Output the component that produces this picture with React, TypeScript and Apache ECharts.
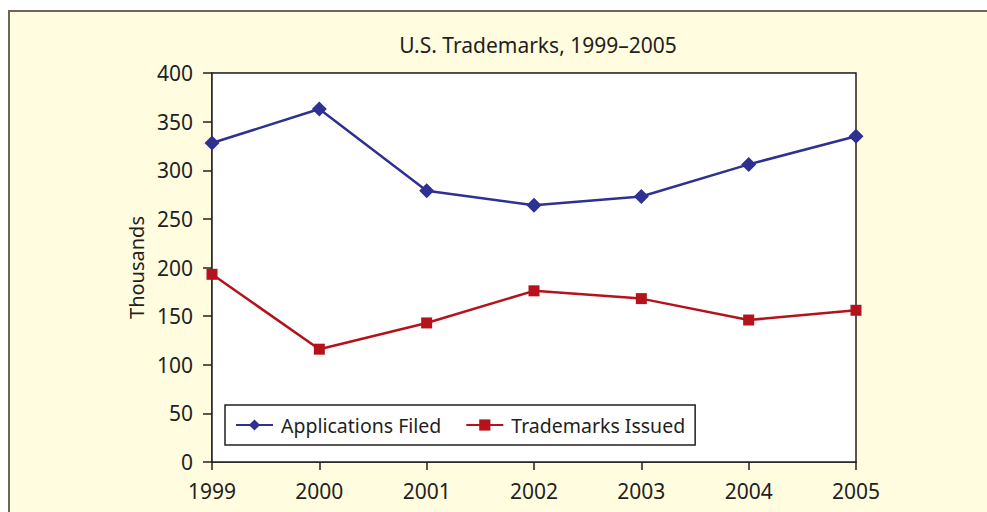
import React, { useEffect, useRef } from "react";
import * as echarts from "echarts";

const years = ["1999", "2000", "2001", "2002", "2003", "2004", "2005"];
const applicationsFiled = [328, 363, 279, 264, 273, 306, 335];
const trademarksIssued = [193, 116, 143, 176, 168, 146, 156];
const yTicks = { min: 0, max: 400, interval: 50 };

const FONT = "Noto Sans";
const TEXT = "#231f20";

export default function App() {
  const ref = useRef<HTMLDivElement>(null);
  useEffect(() => {
    if (!ref.current) return;
    const chart = echarts.init(ref.current, null, { renderer: "svg" });
    chart.setOption({
      animation: false,
      backgroundColor: "#ffffff",
      textStyle: { fontFamily: FONT, color: TEXT },
      graphic: [
        {
          type: "rect",
          z: -10,
          shape: { x: 9, y: 11, width: 1000, height: 520 },
          style: { fill: "#FFFCE0", stroke: "#6b6658", lineWidth: 2 },
        },
      ],
      title: {
        text: "U.S. Trademarks, 1999\u20132005",
        left: 533,
        textAlign: "center",
        top: 29,
        textStyle: { fontFamily: FONT, fontSize: 21, fontWeight: "normal", color: TEXT },
      },
      grid: {
        left: 212,
        right: 131,
        top: 73,
        bottom: 50,
        show: true,
        backgroundColor: "#ffffff",
        borderColor: TEXT,
        borderWidth: 1.5,
        z: 1,
      },
      legend: {
        left: 225,
        top: 405,
        padding: [10, 10, 10, 10],
        itemGap: 24,
        itemWidth: 37,
        itemHeight: 14,
        backgroundColor: "#ffffff",
        borderColor: TEXT,
        borderWidth: 1.5,
        borderRadius: 0,
        textStyle: { fontFamily: FONT, fontSize: 19.5, color: TEXT, padding: [0, 0, 0, 3] },
        data: ["Applications Filed", "Trademarks Issued"],
      },
      xAxis: {
        type: "category",
        data: years,
        boundaryGap: false,
        axisLine: { lineStyle: { color: TEXT, width: 1.5 } },
        axisTick: { show: true, length: 8, lineStyle: { color: TEXT, width: 1.5 } },
        axisLabel: { fontFamily: FONT, fontSize: 21, color: TEXT, margin: 18 },
        splitLine: { show: false },
      },
      yAxis: {
        type: "value",
        min: yTicks.min,
        max: yTicks.max,
        interval: yTicks.interval,
        name: "Thousands",
        nameLocation: "middle",
        nameGap: 64,
        nameTextStyle: { fontFamily: FONT, fontSize: 20, color: TEXT },
        axisLine: { show: true, lineStyle: { color: TEXT, width: 1.5 } },
        axisTick: { show: true, length: 9, lineStyle: { color: TEXT, width: 1.5 } },
        axisLabel: { fontFamily: FONT, fontSize: 21, color: TEXT, margin: 19 },
        splitLine: { show: true, lineStyle: { color: "#bdbdbd", width: 1.5 } },
      },
      series: [
        {
          name: "Applications Filed",
          type: "line",
          data: applicationsFiled,
          symbol: "diamond",
          symbolSize: 15,
          color: "#2E3192",
          lineStyle: { color: "#2E3192", width: 2.5 },
          itemStyle: { color: "#2E3192" },
          z: 3,
        },
        {
          name: "Trademarks Issued",
          type: "line",
          data: trademarksIssued,
          symbol: "rect",
          symbolSize: 11,
          color: "#B5121B",
          lineStyle: { color: "#B5121B", width: 2.5 },
          itemStyle: { color: "#B5121B" },
          z: 3,
        },
      ],
    });
    return () => chart.dispose();
  }, []);
  return (
    <div
      ref={ref}
      style={{ position: "fixed", left: 0, top: 0, width: 987, height: 512 }}
    />
  );
}
